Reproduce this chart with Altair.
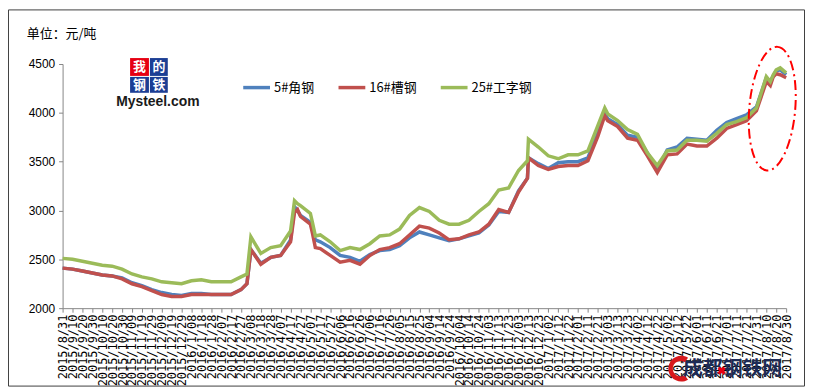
import altair as alt
import pandas as pd

# ---------------- data ----------------
# day offset from 2015/8/31
days = [0, 10, 20, 30, 40, 50, 60, 70, 80, 90, 100, 110, 120, 130, 140, 150, 160, 170, 180, 186, 190,
        200, 210, 220, 230, 234, 237, 240, 250, 252, 255, 260, 270, 280, 290, 300, 310, 320, 330, 340,
        350, 360, 370, 380, 390, 400, 410, 420, 430, 440, 450, 460, 469, 470, 480, 490, 500, 510, 520,
        530, 540, 547, 550, 560, 570, 580, 590, 600, 610, 620, 630, 640, 650, 660, 670, 680, 690, 700,
        710, 714, 717, 720, 724, 730]

angle_steel = [2410, 2400, 2380, 2360, 2340, 2330, 2310, 2260, 2230, 2190, 2160, 2140, 2130, 2150, 2150,
               2140, 2140, 2140, 2190, 2250, 2600, 2460, 2520, 2540, 2700, 3040, 3000, 2950, 2880, 2800,
               2700, 2680, 2620, 2540, 2520, 2480, 2550, 2590, 2600, 2640, 2720, 2780, 2750, 2720, 2690,
               2710, 2740, 2770, 2850, 2990, 2980, 3200, 3330, 3540, 3480, 3430, 3490, 3500, 3500, 3540,
               3790, 4000, 3940, 3880, 3770, 3750, 3590, 3420, 3620, 3650, 3740, 3730, 3720, 3820, 3900,
               3940, 3980, 4060, 4360, 4320, 4380, 4430, 4440, 4390]

channel_steel = [2410, 2400, 2380, 2360, 2340, 2330, 2300, 2250, 2220, 2180, 2140, 2120, 2120, 2140, 2140,
                 2140, 2140, 2140, 2190, 2250, 2600, 2450, 2520, 2540, 2680, 2980, 3010, 2940, 2860, 2770,
                 2620, 2610, 2540, 2470, 2490, 2450, 2540, 2600, 2620, 2660, 2750, 2840, 2820, 2770, 2700,
                 2710, 2750, 2780, 2860, 3010, 2980, 3190, 3330, 3540, 3460, 3420, 3450, 3460, 3460, 3510,
                 3760, 3970, 3920, 3860, 3740, 3720, 3560, 3390, 3570, 3580, 3680, 3660, 3660, 3740, 3840,
                 3880, 3920, 4020, 4320, 4280, 4370, 4400, 4390, 4360]

i_beam = [2510, 2500, 2480, 2460, 2440, 2430, 2400, 2350, 2320, 2300, 2270, 2260, 2250, 2280, 2290,
          2270, 2270, 2270, 2320, 2350, 2730, 2560, 2620, 2640, 2790, 3100, 3070, 3050, 2970, 2880,
          2740, 2750, 2680, 2590, 2620, 2600, 2660, 2740, 2750, 2810, 2950, 3030, 2990, 2900, 2860,
          2860, 2900, 2990, 3070, 3210, 3230, 3410, 3510, 3730, 3650, 3560, 3530, 3570, 3570, 3610,
          3870, 4050, 3990, 3920, 3830, 3780, 3590, 3460, 3610, 3620, 3720, 3720, 3710, 3790, 3880,
          3910, 3950, 4050, 4370, 4320, 4390, 4440, 4460, 4410]

series_names = ["5#角钢", "16#槽钢", "25#工字钢"]
series_colors = ["#4F81BD", "#C0504D", "#9BBB59"]

tick_labels = [
    "2015/8/31", "2015/9/10", "2015/9/20", "2015/9/30", "2015/10/10", "2015/10/20", "2015/10/30",
    "2015/11/09", "2015/11/19", "2015/11/29", "2015/12/09", "2015/12/19", "2015/12/29",
    "2016/1/08", "2016/1/18", "2016/1/28", "2016/2/07", "2016/2/17", "2016/2/27", "2016/3/08",
    "2016/3/18", "2016/3/28", "2016/4/07", "2016/4/17", "2016/4/27", "2016/5/07", "2016/5/17",
    "2016/5/27", "2016/6/06", "2016/6/16", "2016/6/26", "2016/7/06", "2016/7/16", "2016/7/26",
    "2016/8/05", "2016/8/15", "2016/8/25", "2016/9/04", "2016/9/14", "2016/9/24", "2016/10/04",
    "2016/10/14", "2016/10/24", "2016/11/03", "2016/11/13", "2016/11/23", "2016/12/03",
    "2016/12/13", "2016/12/23", "2017/1/02", "2017/1/12", "2017/1/22", "2017/2/01", "2017/2/11",
    "2017/2/21", "2017/3/03", "2017/3/13", "2017/3/23", "2017/4/02", "2017/4/12", "2017/4/22",
    "2017/5/02", "2017/5/12", "2017/5/22", "2017/6/01", "2017/6/11", "2017/6/21", "2017/7/01",
    "2017/7/11", "2017/7/21", "2017/7/31", "2017/8/10", "2017/8/20", "2017/8/30"]
tick_days = [10 * i for i in range(len(tick_labels))]
y_ticks = [2000, 2500, 3000, 3500, 4000, 4500]

unit_text = "单位：元/吨"
logo_chars = ["我", "的", "钢", "铁"]
logo_fills = ["#E60012", "#1C3E94", "#1C3E94", "#1C3E94"]
logo_word = "Mysteel.com"
watermark = "成都钢铁网"

# ---------------- table ----------------
rows = []
for name, vals in zip(series_names, [angle_steel, channel_steel, i_beam]):
    for d, v in zip(days, vals):
        rows.append({"day": d, "price": v, "series": name})
df = pd.DataFrame(rows)

label_expr = "[" + ",".join("'" + t + "'" for t in tick_labels) + "][round(datum.value/10)]"

x_enc = alt.X(
    "day:Q",
    scale=alt.Scale(domain=[0, 730], nice=False, zero=False),
    axis=alt.Axis(values=tick_days, labelExpr=label_expr, labelAngle=270, labelOverlap=False,
                  labelBound=False, labelFlush=False, labelFont="DejaVu Sans Mono", labelFontSize=12,
                  labelColor="#000000", tickSize=4, labelPadding=2, grid=False, title=None,
                  domainColor="#868686", tickColor="#868686"),
)
y_enc = alt.Y(
    "price:Q",
    scale=alt.Scale(domain=[2000, 4500], nice=False, zero=False),
    axis=alt.Axis(values=y_ticks, format="d", labelFont="Liberation Sans", labelFontSize=12,
                  labelColor="#000000", tickSize=4, labelPadding=4, grid=False, title=None,
                  domainColor="#868686", tickColor="#868686"),
)

color_scale = alt.Scale(domain=series_names, range=series_colors)
legend_def = alt.Legend(title=None, orient="none", legendX=180, legendY=8, direction="horizontal",
                        symbolType="stroke", symbolStrokeWidth=3.5, symbolSize=729,
                        labelFont="Noto Sans CJK SC", labelFontSize=13, labelColor="#000000",
                        columnPadding=17, labelOffset=2, padding=0)


def line_layer(name):
    return alt.Chart(df).transform_filter(alt.datum.series == name).mark_line(
        strokeWidth=3.5
    ).encode(
        x=x_enc, y=y_enc,
        color=alt.Color("series:N", scale=color_scale, legend=legend_def),
    )


blank = alt.Data(values=[{}])


def text_at(txt, x, y, **kw):
    return alt.Chart(blank).mark_text(text=txt, **kw).encode(x=alt.value(x), y=alt.value(y))


def rect_at(x, x2, y, y2, **kw):
    return alt.Chart(blank).mark_rect(**kw).encode(
        x=alt.value(x), x2=alt.value(x2), y=alt.value(y), y2=alt.value(y2))


def shape_at(path, x, y, size, **kw):
    return alt.Chart(blank).mark_point(shape=path, size=size, opacity=1, **kw).encode(
        x=alt.value(x), y=alt.value(y))


layers = [line_layer(n) for n in series_names]

# frame
layers.append(rect_at(-54.5, 747.5, -54.5, 324.5, filled=False, stroke="#404040",
                      color="#404040", strokeWidth=1))

# unit title
layers.append(text_at(unit_text, -36, -30, align="left", baseline="middle",
                      font="Noto Sans CJK SC", fontSize=13, color="#000000"))

# logo
cells = [(68, 87, -6, 12), (88, 106, -6, 12), (68, 87, 13, 29), (88, 106, 13, 29)]
for ch, fill, (x1, x2, y1, y2) in zip(logo_chars, logo_fills, cells):
    layers.append(rect_at(x1, x2, y1, y2, color=fill))
    layers.append(text_at(ch, (x1 + x2) / 2, (y1 + y2) / 2, align="center", baseline="middle",
                          font="Noto Sans CJK SC", fontSize=13, fontWeight="bold", color="#FFFFFF"))
layers.append(text_at(logo_word, 54, 42, align="left", baseline="alphabetic",
                      font="Liberation Sans", fontSize=14, fontWeight="bold", color="#1a1a1a"))

# dash-dot ellipse
layers.append(shape_at("M0,-1A0.37,1,0,1,1,0,1A0.37,1,0,1,1,0,-1Z", 715, 45, 15625,
                       filled=False, stroke="#FF0000", color="#FF0000", strokeWidth=2,
                       strokeDash=[10, 4, 2, 4], angle=5))

# watermark: red crescent "C", text, red cross
layers.append(shape_at("M0.55,-0.85A1,1,0,1,0,0.55,0.85L0.3,0.5A0.6,0.6,0,1,1,0.3,-0.5Z",
                       623, 307, 676, filled=True, color="#D7191C", strokeWidth=0))
layers.append(text_at(watermark, 675, 307, align="center", baseline="middle",
                      font="Noto Sans CJK SC", fontSize=20, fontWeight="bold", color="#1D2B55"))
layers.append(shape_at("cross", 664, 309, 70, filled=True, color="#E60012", strokeWidth=0, angle=45))

chart = alt.layer(*layers).properties(
    width=729, height=246,
    padding={"left": 55, "top": 55, "right": 20, "bottom": 80},
    autosize=alt.AutoSizeParams(type="none"),
    background="#FFFFFF",
).configure_view(stroke=None)

chart.save("out.html", embed_options={"renderer": "svg", "actions": False})
